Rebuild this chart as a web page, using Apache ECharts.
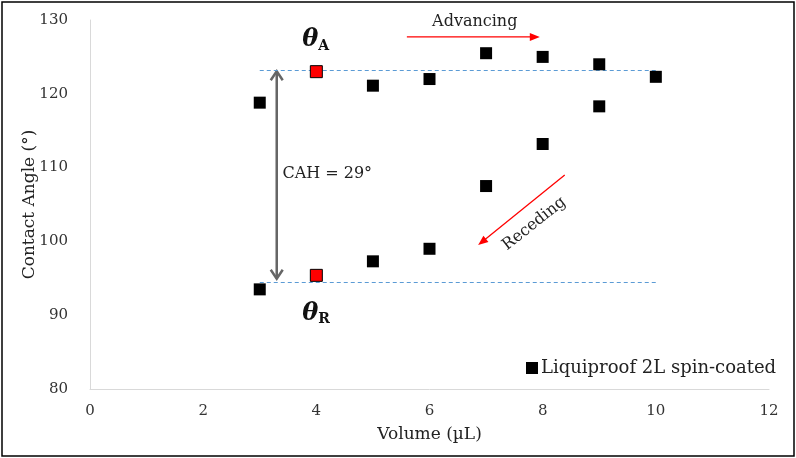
<!DOCTYPE html>
<html><head><meta charset="utf-8">
<script src="https://cdn.jsdelivr.net/npm/echarts@6/dist/echarts.min.js"></script>
<style>html,body{margin:0;padding:0;background:#fff}#c{width:796px;height:458px}</style>
</head><body><div id="c"></div>
<script>
// Data
const volumes = [3, 4, 5, 6, 7, 8, 9, 10, 9, 8, 7, 6, 5, 4, 3];
const angles = [118.8, 123.0, 121.1, 122.0, 125.5, 125.0, 124.0, 122.3, 118.3, 113.2, 107.5, 99.0, 97.3, 95.4, 93.5];
const highlightIdx = [1, 13];
const thetaA = 123.2;
const thetaR = 94.5;
const xTicks = [0, 2, 4, 6, 8, 10, 12];
const yTicks = [80, 90, 100, 110, 120, 130];

const FONT = 'DejaVu Serif';
const chart = echarts.init(document.getElementById('c'));
const pts = volumes.map((v, i) => ({
  value: [v, angles[i]],
  itemStyle: highlightIdx.includes(i) ? {color: '#ff0000', borderColor: '#000', borderWidth: 1, opacity: 1} : {color: '#000', opacity: 1}
}));
chart.setOption({
  animation: false,
  grid: {left: 90, right: 27, top: 20, bottom: 69},
  xAxis: {type: 'value', min: 0, max: 12, interval: 2,
    name: 'Volume (\u00b5L)', nameLocation: 'middle', nameGap: 37,
    nameTextStyle: {fontFamily: FONT, fontSize: 17, color: '#222'},
    axisLine: {lineStyle: {color: '#d9d9d9'}}, axisTick: {show: false}, splitLine: {show: false},
    axisLabel: {fontFamily: FONT, fontSize: 15, color: '#333', margin: 15}},
  yAxis: {type: 'value', min: 80, max: 130, interval: 10,
    name: 'Contact Angle (\u00b0)', nameLocation: 'middle', nameGap: 52, nameMoveOverlap: false,
    nameTextStyle: {fontFamily: FONT, fontSize: 17, color: '#222'},
    axisLine: {show: true, lineStyle: {color: '#d9d9d9'}}, axisTick: {show: false}, splitLine: {show: false},
    axisLabel: {fontFamily: FONT, fontSize: 15, color: '#333', margin: 22}},
  legend: {left: 521, top: 354, itemWidth: 12, itemHeight: 12, itemGap: 4,
    icon: 'rect', textStyle: {fontFamily: FONT, fontSize: 18, color: '#222', padding: [0, 0, 0, -2]},
    data: [{name: 'Liquiproof 2L spin-coated', itemStyle: {color: '#000', opacity: 1}}]},
  series: [{
    name: 'Liquiproof 2L spin-coated', type: 'scatter', symbol: 'rect', symbolSize: 12,
    itemStyle: {color: '#000', opacity: 1}, data: pts, z: 5,
    markLine: {silent: true, symbol: 'none', label: {show: false},
      lineStyle: {type: [4, 3], color: '#5b9bd5', width: 1},
      data: [
        [{coord: [3, thetaA]}, {coord: [10, thetaA]}],
        [{coord: [3, thetaR]}, {coord: [10, thetaR]}]
      ]}
  }]
});

const P = (x, y) => chart.convertToPixel({gridIndex: 0}, [x, y]);
const g = [];
g.push({type: 'rect', shape: {x: 2, y: 2, width: 792, height: 454}, style: {fill: 'none', stroke: '#000', lineWidth: 1.5}, z: 100});
// double arrow CAH
const a1 = P(3.3, thetaA), a2 = P(3.3, thetaR + 0.3);
g.push({type: 'line', shape: {x1: a1[0], y1: a1[1] + 1, x2: a2[0], y2: a2[1] - 1}, style: {stroke: '#666', lineWidth: 2.5}});
g.push({type: 'polyline', shape: {points: [[a1[0] - 6, a1[1] + 10], [a1[0], a1[1] + 1], [a1[0] + 6, a1[1] + 10]]}, style: {stroke: '#666', lineWidth: 2.5, fill: 'none'}});
g.push({type: 'polyline', shape: {points: [[a2[0] - 6, a2[1] - 10], [a2[0], a2[1] - 1], [a2[0] + 6, a2[1] - 10]]}, style: {stroke: '#666', lineWidth: 2.5, fill: 'none'}});
const t1 = P(3.4, 109.2);
g.push({type: 'text', x: t1[0], y: t1[1], style: {text: 'CAH = 29\u00b0', font: '16px ' + FONT, fill: '#222', verticalAlign: 'middle'}});
// theta labels
const rich = {th: {fontFamily: FONT, fontStyle: 'italic', fontWeight: 'bold', fontSize: 24, fill: '#111'}, sub: {fontFamily: FONT, fontWeight: 'bold', fontSize: 14, fill: '#111', padding: [12, 0, 0, 0]}};
const tA = P(3.75, 127.3);
g.push({type: 'text', x: tA[0], y: tA[1], style: {text: '{th|\u03b8}{sub|A}', rich: rich, verticalAlign: 'middle'}});
const tR = P(3.75, 90.2);
g.push({type: 'text', x: tR[0], y: tR[1], style: {text: '{th|\u03b8}{sub|R}', rich: rich, verticalAlign: 'middle'}});
// Advancing arrow
const ad1 = P(5.6, 127.7), ad2 = P(7.95, 127.7);
g.push({type: 'line', shape: {x1: ad1[0], y1: ad1[1], x2: ad2[0] - 8, y2: ad2[1]}, style: {stroke: '#ff0000', lineWidth: 1.3}});
g.push({type: 'polygon', shape: {points: [[ad2[0], ad2[1]], [ad2[0] - 10, ad2[1] - 4], [ad2[0] - 10, ad2[1] + 4]]}, style: {fill: '#ff0000'}});
const adT = P(6.8, 129.8);
g.push({type: 'text', x: adT[0], y: adT[1], style: {text: 'Advancing', font: '16px ' + FONT, fill: '#222', align: 'center', verticalAlign: 'middle'}});
// Receding arrow
const r1 = P(8.39, 109.0), r2 = P(6.86, 99.5);
const dx = r2[0] - r1[0], dy = r2[1] - r1[1], L = Math.hypot(dx, dy), ux = dx / L, uy = dy / L;
g.push({type: 'line', shape: {x1: r1[0], y1: r1[1], x2: r2[0] - ux * 8, y2: r2[1] - uy * 8}, style: {stroke: '#ff0000', lineWidth: 1.3}});
g.push({type: 'polygon', shape: {points: [[r2[0], r2[1]], [r2[0] - ux * 10 - uy * 4, r2[1] - uy * 10 + ux * 4], [r2[0] - ux * 10 + uy * 4, r2[1] - uy * 10 - ux * 4]]}, style: {fill: '#ff0000'}});
const rT = P(7.85, 102.4);
g.push({type: 'text', x: rT[0], y: rT[1], rotation: 0.67, style: {text: 'Receding', font: '16px ' + FONT, fill: '#222', align: 'center', verticalAlign: 'middle'}});
chart.setOption({graphic: g});
</script></body></html>
